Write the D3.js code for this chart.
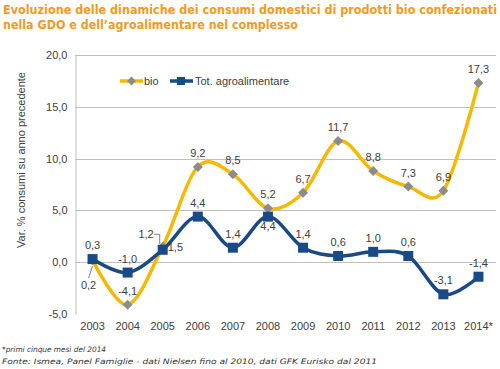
<!DOCTYPE html>
<html>
<head>
<meta charset="utf-8">
<script src="https://cdn.jsdelivr.net/npm/d3@7"></script>
<style>
  body { margin: 0; background: #fff; }
  svg { display: block; }
</style>
</head>
<body>
<div id="chart"></div>
<script>
// data
var years = ["2003", "2004", "2005", "2006", "2007", "2008", "2009", "2010", "2011", "2012", "2013", "2014*"];
var bio = [0.2, -4.1, 1.5, 9.2, 8.5, 5.2, 6.7, 11.7, 8.8, 7.3, 6.9, 17.3];
var tot = [0.3, -1.0, 1.2, 4.4, 1.4, 4.4, 1.4, 0.6, 1.0, 0.6, -3.1, -1.4];
var yTicks = [-5, 0, 5, 10, 15, 20];

// where each data label sits
var bioLabelPos = ["leadBelow", "above", "right", "above", "above", "above", "above", "above", "above", "above", "above", "above"];
var totLabelPos = ["above", "above", "leadAbove", "above", "above", "below", "above", "above", "above", "above", "above", "above"];

var width = 500, height = 369;
var margin = { left: 75, right: 4, top: 55, bottom: 55 };
var sans = "'Liberation Sans', Arial, sans-serif";

var svg = d3.select("#chart").append("svg")
    .attr("width", width)
    .attr("height", height);

var fmt = function(v) { return d3.format(".1f")(v).replace(".", ",").replace("\u2212", "-"); };

var x = d3.scaleBand().domain(years).range([margin.left, 496]);
var y = d3.scaleLinear().domain([-5, 20]).range([314, 55]);
var cx = function(d, i) { return x(years[i]) + x.bandwidth() / 2; };

// title
var title = svg.append("g")
    .attr("font-family", "Tahoma, 'DejaVu Sans', sans-serif")
    .attr("font-weight", "bold")
    .attr("font-size", 13)
    .attr("fill", "#F39A1E");
title.append("text").attr("x", 3).attr("y", 14)
    .attr("textLength", 494).attr("lengthAdjust", "spacingAndGlyphs")
    .text("Evoluzione delle dinamiche dei consumi domestici di prodotti bio confezionati");
title.append("text").attr("x", 3).attr("y", 29)
    .attr("textLength", 295).attr("lengthAdjust", "spacingAndGlyphs")
    .text("nella GDO e dell\u2019agroalimentare nel complesso");

// grid
svg.append("g").selectAll("line")
    .data(yTicks.filter(function(d) { return d !== -5; }))
    .join("line")
    .attr("x1", margin.left).attr("x2", 496)
    .attr("y1", function(d) { return Math.round(y(d)) + 0.5; })
    .attr("y2", function(d) { return Math.round(y(d)) + 0.5; })
    .attr("stroke", "#BFBFBF")
    .attr("stroke-width", 1);

// y axis
var yAxis = svg.append("g")
    .attr("transform", "translate(" + (margin.left + 0.5) + ",0)")
    .call(d3.axisLeft(y).tickValues(yTicks).tickSize(0).tickPadding(8).tickFormat(fmt));
yAxis.select(".domain").attr("stroke", "#BFBFBF");
yAxis.selectAll("text")
    .attr("font-family", sans)
    .attr("font-size", 11)
    .attr("fill", "#404040");

// x axis labels
var xAxis = svg.append("g")
    .attr("transform", "translate(0,318)")
    .call(d3.axisBottom(x).tickSize(0).tickPadding(4));
xAxis.select(".domain").remove();
xAxis.selectAll("text")
    .attr("font-family", sans)
    .attr("font-size", 11)
    .attr("fill", "#404040");

// y title
svg.append("text")
    .attr("transform", "translate(25,160) rotate(-90)")
    .attr("text-anchor", "middle")
    .attr("font-family", sans)
    .attr("font-size", 11)
    .attr("fill", "#404040")
    .text("Var. % consumi su anno precedente");

var curve = d3.curveCatmullRom.alpha(0);
var bioColor = "#F7B800", totColor = "#1A4A85", diamondColor = "#8C8C8C";

var line = d3.line()
    .x(cx)
    .y(function(d) { return y(d); })
    .curve(curve);

// bio series
svg.append("path")
    .attr("d", line(bio))
    .attr("fill", "none")
    .attr("stroke", bioColor)
    .attr("stroke-width", 3.5);
svg.append("g").selectAll("path")
    .data(bio)
    .join("path")
    .attr("d", d3.symbol(d3.symbolSquare, 50)())
    .attr("transform", function(d, i) { return "translate(" + cx(d, i) + "," + y(d) + ") rotate(45)"; })
    .attr("fill", diamondColor);

// tot series
svg.append("path")
    .attr("d", line(tot))
    .attr("fill", "none")
    .attr("stroke", totColor)
    .attr("stroke-width", 3.5);
svg.append("g").selectAll("rect")
    .data(tot)
    .join("rect")
    .attr("x", function(d, i) { return cx(d, i) - 5; })
    .attr("y", function(d) { return y(d) - 5; })
    .attr("width", 10).attr("height", 10)
    .attr("fill", totColor);

// data labels
function addLabels(values, pos) {
  var g = svg.append("g")
      .attr("font-family", sans)
      .attr("font-size", 11)
      .attr("fill", "#404040");
  values.forEach(function(v, i) {
    var px = cx(v, i), py = y(v);
    var t = g.append("text").text(fmt(v));
    var p = pos[i];
    if (p === "above") {
      t.attr("x", px).attr("y", py - 10).attr("text-anchor", "middle");
    } else if (p === "below") {
      t.attr("x", px).attr("y", py + 13).attr("text-anchor", "middle");
    } else if (p === "right") {
      t.attr("x", px + 5).attr("y", py + 4).attr("text-anchor", "start");
    } else if (p === "leadBelow") {
      t.attr("x", px - 4).attr("y", py + 29).attr("text-anchor", "middle");
      g.append("path")
        .attr("d", "M" + (px - 4) + "," + (py + 18) + "L" + px + "," + (py + 6))
        .attr("stroke", "#7F7F7F").attr("fill", "none");
    } else if (p === "leadAbove") {
      t.attr("x", px - 9).attr("y", py - 12).attr("text-anchor", "end");
      g.append("path")
        .attr("d", "M" + (px - 9) + "," + (py - 15.5) + "H" + (px - 3) + "V" + (py - 6))
        .attr("stroke", "#7F7F7F").attr("fill", "none");
    }
  });
}
addLabels(bio, bioLabelPos);
addLabels(tot, totLabelPos);

// legend
var legend = svg.append("g")
    .attr("font-family", sans)
    .attr("font-size", 11)
    .attr("fill", "#404040");
legend.append("line").attr("x1", 120).attr("x2", 143).attr("y1", 81).attr("y2", 81)
    .attr("stroke", bioColor).attr("stroke-width", 3.5);
legend.append("path").attr("d", d3.symbol(d3.symbolSquare, 40)())
    .attr("transform", "translate(131.5,81) rotate(45)").attr("fill", diamondColor);
legend.append("text").attr("x", 144).attr("y", 85).text("bio");
legend.append("line").attr("x1", 170).attr("x2", 193).attr("y1", 81).attr("y2", 81)
    .attr("stroke", totColor).attr("stroke-width", 3.5);
legend.append("rect").attr("x", 177).attr("y", 77).attr("width", 8).attr("height", 8)
    .attr("fill", totColor);
legend.append("text").attr("x", 195).attr("y", 85).text("Tot. agroalimentare");

// footnotes
var foot = svg.append("g")
    .attr("font-family", "Verdana, 'DejaVu Sans', sans-serif")
    .attr("font-style", "italic")
    .attr("font-size", 7.5)
    .attr("fill", "#333");
foot.append("text").attr("x", 2).attr("y", 352)
    .attr("textLength", 104).attr("lengthAdjust", "spacingAndGlyphs")
    .text("*primi cinque mesi del 2014");
foot.append("text").attr("x", 2).attr("y", 364)
    .attr("textLength", 375).attr("lengthAdjust", "spacingAndGlyphs")
    .text("Fonte: Ismea, Panel Famiglie - dati Nielsen fino al 2010, dati GFK Eurisko dal 2011");
</script>
</body>
</html>
